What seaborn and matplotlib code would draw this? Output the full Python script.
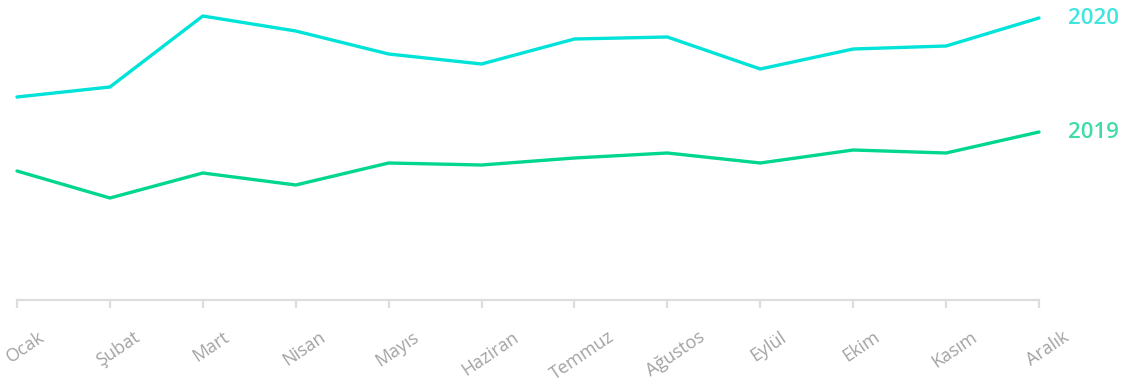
import matplotlib
matplotlib.use("Agg")
import matplotlib.pyplot as plt
import matplotlib.transforms as mtransforms
import seaborn as sns
import pandas as pd

months = ["Ocak", "Şubat", "Mart", "Nisan", "Mayıs", "Haziran",
          "Temmuz", "Ağustos", "Eylül", "Ekim", "Kasım", "Aralık"]
values_2020 = [203, 213, 284, 269, 246, 236, 261, 263, 231, 251, 254, 282]
values_2019 = [129, 102, 127, 115, 137, 135, 142, 147, 137, 150, 147, 168]
years = ["2020", "2019"]

line_colors = {"2020": "#00E3D9", "2019": "#00D690"}
label_colors = {"2020": "#3EE6DE", "2019": "#3FDDA6"}

df = pd.concat([
    pd.DataFrame({"month": range(len(months)), "value": values_2020, "year": "2020"}),
    pd.DataFrame({"month": range(len(months)), "value": values_2019, "year": "2019"}),
])

sns.set_theme(style="white")
plt.rcParams["font.family"] = ["Open Sans", "DejaVu Sans"]

fig = plt.figure(figsize=(11.25, 3.83), dpi=100)
ax = fig.add_axes([17 / 1125, 83 / 383, (1039 - 17) / 1125, 300 / 383])

sns.lineplot(data=df, x="month", y="value", hue="year", hue_order=years,
             palette=line_colors, linewidth=2.4, legend=False, ax=ax,
             solid_capstyle="round", solid_joinstyle="round", clip_on=False)

ax.set_xlim(0, len(months) - 1)
ax.set_ylim(0, 300)
ax.set_xlabel("")
ax.set_ylabel("")
ax.set_yticks([])
ax.set_xticks(range(len(months)))
ax.set_xticklabels(months, rotation=34, ha="center",
                   color="#A3A3A3", fontsize=13)
ax.tick_params(axis="x", bottom=True, length=6, width=1.6, color="#DDDDDD", pad=14)

# nudge the rotated month labels slightly to the right
shift = mtransforms.ScaledTranslation(6 / 72, 0, fig.dpi_scale_trans)
for lbl in ax.get_xticklabels():
    lbl.set_transform(lbl.get_transform() + shift)

for side in ["top", "left", "right"]:
    ax.spines[side].set_visible(False)
ax.spines["bottom"].set_color("#DDDDDD")
ax.spines["bottom"].set_linewidth(1.6)

for yr, vals in (("2020", values_2020), ("2019", values_2019)):
    ax.annotate(yr, xy=(len(months) - 1, vals[-1]), xytext=(21, 0),
                textcoords="offset points", va="center", ha="left",
                fontsize=16, fontweight="semibold", color=label_colors[yr],
                annotation_clip=False)

fig.savefig("out.png", dpi=100, facecolor="white")
